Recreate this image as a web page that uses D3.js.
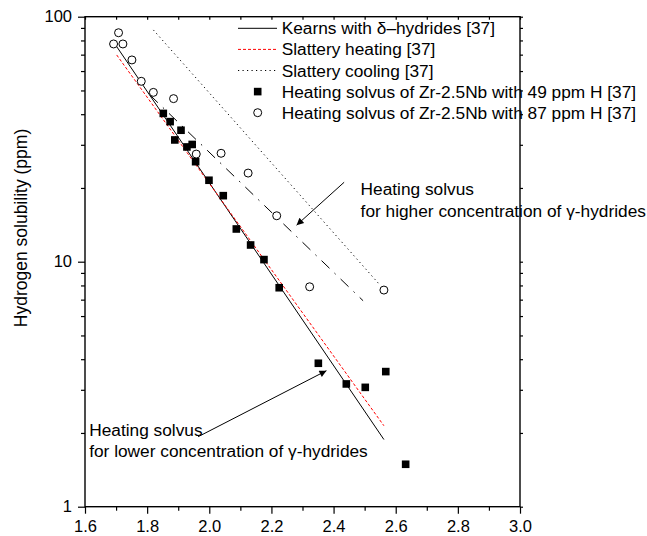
<!DOCTYPE html>
<html>
<head>
<meta charset="utf-8">
<script src="https://cdn.jsdelivr.net/npm/d3@7"></script>
<style>
  body { margin: 0; background: #fff; }
  text { font-family: "Liberation Sans", Arial, Helvetica, sans-serif; }
</style>
</head>
<body>
<svg id="chart" width="647" height="536"></svg>
<script>
// data (x: 1000/T style axis, y: ppm)
const xTicks = [1.6, 1.8, 2.0, 2.2, 2.4, 2.6, 2.8, 3.0];
const xMinor = [1.7, 1.9, 2.1, 2.3, 2.5, 2.7, 2.9];
const yTicks = [1, 10, 100];

const sq49 = [
  [1.852, 40.3], [1.874, 37.3], [1.909, 34.4], [1.889, 31.4], [1.928, 29.4],
  [1.945, 30.1], [1.956, 25.6], [1.999, 21.5], [2.045, 18.6], [2.087, 13.6],
  [2.133, 11.7], [2.176, 10.2], [2.225, 7.83], [2.351, 3.85], [2.441, 3.17],
  [2.502, 3.07], [2.568, 3.56], [2.632, 1.49]
];
const circ87 = [
  [1.708, 86], [1.692, 77.4], [1.722, 77.4], [1.751, 66.6], [1.781, 54.5],
  [1.820, 49.1], [1.885, 46.3], [1.958, 27.5], [2.038, 27.7], [2.125, 23.0],
  [2.217, 15.4], [2.323, 7.9], [2.562, 7.66]
];
const kearns = [[1.702, 75.5], [2.562, 1.88]];
const slatHeat = [[1.702, 69.8], [2.562, 2.14]];
const slatCool = [[1.820, 88.3], [2.549, 8.04]];
const highSolvus = [[1.809, 47.9], [2.495, 6.93]];

const legendLabels = [
  "Kearns with \u03b4\u2013hydrides [37]",
  "Slattery heating [37]",
  "Slattery cooling [37]",
  "Heating solvus of Zr-2.5Nb with 49 ppm H [37]",
  "Heating solvus of Zr-2.5Nb with 87 ppm H [37]"
];

const notes = [
  { lines: ["Heating solvus", "for higher concentration of \u03b3-hydrides"], at: [2.487, 18.7], from: [2.434, 21.1], to: [2.281, 14.1] },
  { lines: ["Heating solvus", "for lower concentration of \u03b3-hydrides"], at: [1.6135, 1.95], from: [1.964, 1.93], to: [2.377, 3.59] }
];

const svg = d3.select("#chart");
const mLeft = 85, mRight = 520, mTop = 16.7, mBottom = 506.7;
const fs = 17.3, tickFs = 16.5;

const x = d3.scaleLinear().domain([1.6, 3.0]).range([mLeft, mRight]);
const y = d3.scaleLog().domain([1, 100]).range([mBottom, mTop]);

let yMinor = [];
[1, 10].forEach(d => { for (let k = 2; k <= 9; k++) yMinor.push(d * k); });

// arrow head
svg.append("defs").append("marker")
  .attr("id", "arr").attr("viewBox", "0 0 10 10")
  .attr("refX", 10).attr("refY", 5)
  .attr("markerWidth", 11).attr("markerHeight", 7)
  .attr("markerUnits", "userSpaceOnUse")
  .attr("orient", "auto")
  .append("path").attr("d", "M0,0 L10,5 L0,10 Z").attr("fill", "#000");

// axes
const axisStyle = g => {
  g.select(".domain").remove();
  g.selectAll("line").attr("stroke", "#000").attr("stroke-width", 1.2);
  g.selectAll("text").attr("font-size", tickFs).attr("fill", "#000")
    .style("font-family", '"Liberation Sans", Arial, sans-serif');
};

svg.append("g").attr("transform", `translate(0,${mBottom})`)
  .call(d3.axisBottom(x).tickValues(xTicks).tickFormat(d3.format(".1f")).tickSize(7).tickPadding(7))
  .call(axisStyle);
svg.append("g").attr("transform", `translate(0,${mBottom})`)
  .call(d3.axisBottom(x).tickValues(xMinor).tickFormat("").tickSize(4))
  .call(axisStyle);
svg.append("g").attr("transform", `translate(${mLeft},0)`)
  .call(d3.axisLeft(y).tickValues(yTicks).tickFormat(d3.format("d")).tickSize(7).tickPadding(6))
  .call(axisStyle);
svg.append("g").attr("transform", `translate(${mLeft},0)`)
  .call(d3.axisLeft(y).tickValues(yMinor).tickFormat("").tickSize(4))
  .call(axisStyle);
// mirrored small ticks on top and right
svg.append("g").attr("transform", `translate(0,${mTop})`)
  .call(d3.axisBottom(x).tickValues(xTicks.concat(xMinor)).tickFormat("").tickSize(3))
  .call(axisStyle);
svg.append("g").attr("transform", `translate(${mRight},0)`)
  .call(d3.axisRight(y).tickValues(yTicks.concat(yMinor)).tickFormat("").tickSize(3))
  .call(axisStyle);

// frame
svg.append("rect").attr("x", mLeft).attr("y", mTop)
  .attr("width", mRight - mLeft).attr("height", mBottom - mTop)
  .attr("fill", "none").attr("stroke", "#000").attr("stroke-width", 1.4);

svg.append("text")
  .attr("transform", "translate(27,228) rotate(-90)")
  .attr("text-anchor", "middle").attr("font-size", 17.5)
  .text("Hydrogen solubility (ppm)");

// lines
const line = d3.line().x(d => x(d[0])).y(d => y(d[1]));
const lineStyles = [
  { data: kearns, color: "#000", dash: null },
  { data: slatHeat, color: "#f00", dash: "3,2" },
  { data: slatCool, color: "#000", dash: "1.2,3.3" },
  { data: highSolvus, color: "#000", dash: "11,7,1.5,7" }
];
lineStyles.forEach(s => {
  svg.append("path").datum(s.data).attr("d", line)
    .attr("fill", "none").attr("stroke", s.color).attr("stroke-width", 1)
    .attr("stroke-dasharray", s.dash);
});

// points
svg.append("g").selectAll("rect").data(sq49).join("rect")
  .attr("x", d => x(d[0]) - 3.8).attr("y", d => y(d[1]) - 3.8)
  .attr("width", 7.6).attr("height", 7.6).attr("fill", "#000");
svg.append("g").selectAll("circle").data(circ87).join("circle")
  .attr("cx", d => x(d[0])).attr("cy", d => y(d[1])).attr("r", 4)
  .attr("fill", "#fff").attr("stroke", "#000").attr("stroke-width", 1);

// legend
const lgX = 238, lgY = 28.3, lgStep = 21.1;
const lg = svg.append("g");
legendLabels.forEach((lab, i) => {
  const cy = lgY + i * lgStep;
  if (i < 3) {
    const s = lineStyles[i];
    lg.append("line").attr("x1", lgX).attr("x2", lgX + 39).attr("y1", cy).attr("y2", cy)
      .attr("stroke", s.color).attr("stroke-width", 1).attr("stroke-dasharray", s.dash);
  } else if (i === 3) {
    lg.append("rect").attr("x", lgX + 19.7 - 3.8).attr("y", cy - 3.8)
      .attr("width", 7.6).attr("height", 7.6).attr("fill", "#000");
  } else {
    lg.append("circle").attr("cx", lgX + 19.7).attr("cy", cy).attr("r", 4)
      .attr("fill", "#fff").attr("stroke", "#000");
  }
  lg.append("text").attr("x", lgX + 43.7).attr("y", cy + 6)
    .attr("font-size", fs).text(lab);
});

// annotations
notes.forEach(n => {
  svg.append("line")
    .attr("x1", x(n.from[0])).attr("y1", y(n.from[1]))
    .attr("x2", x(n.to[0])).attr("y2", y(n.to[1]))
    .attr("stroke", "#000").attr("stroke-width", 1)
    .attr("marker-end", "url(#arr)");
  const t = svg.append("text").attr("font-size", fs)
    .attr("x", x(n.at[0])).attr("y", y(n.at[1]));
  n.lines.forEach((l, i) => {
    t.append("tspan").attr("x", x(n.at[0])).attr("dy", i === 0 ? 0 : 21.5).text(l);
  });
});
</script>
</body>
</html>
